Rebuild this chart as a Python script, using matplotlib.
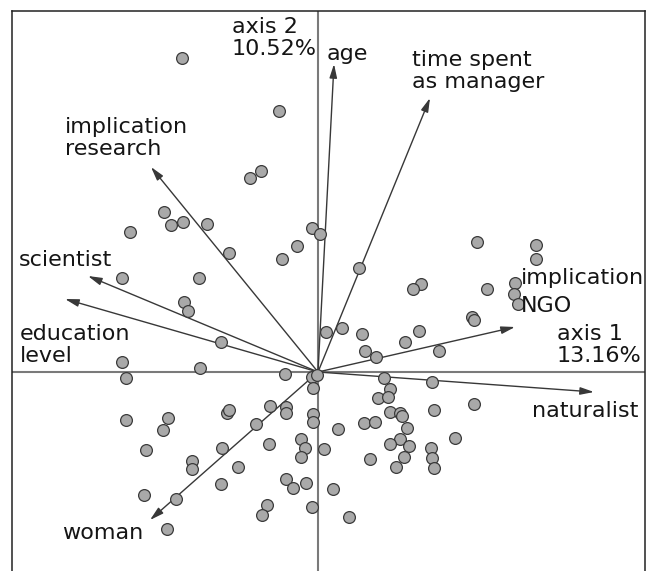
import matplotlib
matplotlib.use("Agg")
import matplotlib.pyplot as plt
from matplotlib.patches import FancyArrowPatch

# Individual scores on the factorial plane (axis 1, axis 2)
ind_x = [-1.36, -0.39, -0.68, -0.57, -1.54, -1.47, -1.35, -1.11, -1.88, -0.06,
         0.02, -0.21, -0.89, -0.36, -1.96, -1.19, 0.41, 1.59, 2.18, 2.18,
         1.03, 0.95, 1.69, 1.97, 1.96, 2.00, 1.54, 1.56, 0.24, 0.08,
         0.44, 1.01, 0.87, 0.47, 0.58, 1.21, -1.34, -1.30, -0.97, -1.96,
         -1.92, -1.18, -0.33, -0.06, -0.01, -0.05, 0.66, 1.14, 0.72, 0.60,
         0.70, 1.56, 0.72, 0.82, 0.84, 1.16, 0.20, 0.46, 0.57, 0.89,
         0.82, 0.72, 0.91, 1.37, 1.13, 1.14, 1.16, 0.86, 0.78, 0.52,
         0.06, 0.15, 0.31, -0.48, -0.32, -0.32, -0.91, -0.89, -0.05, -0.05,
         -1.92, -1.50, -1.55, -0.62, -1.72, -0.96, -0.49, -0.17, -0.13, -0.17,
         -1.26, -1.26, -0.80, -1.74, -1.42, -0.97, -0.32, -0.25, -0.12, -0.51,
         -0.56, -0.06, -1.51]
ind_y = [3.14, 2.61, 1.94, 2.01, 1.60, 1.47, 1.50, 1.48, 1.40, 1.44,
         1.38, 1.26, 1.19, 1.13, 0.94, 0.94, 1.04, 1.30, 1.27, 1.13,
         0.88, 0.83, 0.83, 0.89, 0.78, 0.68, 0.55, 0.52, 0.44, 0.40,
         0.38, 0.41, 0.30, 0.21, 0.15, 0.21, 0.70, 0.61, 0.30, 0.10,
         -0.06, 0.04, -0.02, -0.05, -0.03, -0.16, -0.06, -0.10, -0.17, -0.26,
         -0.25, -0.32, -0.40, -0.41, -0.44, -0.38, -0.57, -0.51, -0.50, -0.56,
         -0.67, -0.72, -0.74, -0.66, -0.76, -0.86, -0.96, -0.85, -0.95, -0.87,
         -0.77, -1.17, -1.45, -0.34, -0.35, -0.41, -0.41, -0.38, -0.42, -0.50,
         -0.48, -0.46, -0.58, -0.52, -0.78, -0.76, -0.72, -0.67, -0.76, -0.85,
         -0.89, -0.97, -0.95, -1.23, -1.27, -1.12, -1.07, -1.16, -1.11, -1.33,
         -1.43, -1.35, -1.57]

# Variable loadings (arrow tips)
var_names = ["age", "time spent\nas manager", "implication\nresearch", "scientist",
             "education\nlevel", "woman", "implication\nNGO", "naturalist"]
var_x = [0.16, 1.12, -1.67, -2.30, -2.53, -1.68, 1.97, 2.76]
var_y = [3.08, 2.74, 2.05, 0.96, 0.73, -1.48, 0.45, -0.20]

axis_labels = ["axis 1\n13.16%", "axis 2\n10.52%"]

W, H = 657, 571
fig = plt.figure(figsize=(W / 100, H / 100), dpi=100)
left_px, right_px, top_px, bottom_px = 12, 645, 11, 571
ax = fig.add_axes([left_px / W, 1 - bottom_px / H,
                   (right_px - left_px) / W, (bottom_px - top_px) / H])
ox, oy = 318, 372
ax.set_xlim((left_px - ox) / 100, (right_px - ox) / 100)
ax.set_ylim((oy - bottom_px) / 100, (oy - top_px) / 100)
ax.set_xticks([])
ax.set_yticks([])
for s in ["left", "right", "top"]:
    ax.spines[s].set_linewidth(1.1)
    ax.spines[s].set_color("#222222")
ax.spines["bottom"].set_visible(False)

ax.axhline(0, color="#7a7a7a", lw=1.5, zorder=1)
ax.axvline(0, color="#7a7a7a", lw=1.5, zorder=1)

for vx, vy in zip(var_x, var_y):
    arr = FancyArrowPatch((0, 0), (vx, vy),
                          arrowstyle="-|>,head_length=0.55,head_width=0.15",
                          mutation_scale=15, color="#383838", lw=1.0,
                          shrinkA=0, shrinkB=0, zorder=2)
    ax.add_patch(arr)

ax.scatter(ind_x, ind_y, s=72, facecolor="#a9a9a9", edgecolor="#3a3a3a",
           linewidths=0.9, zorder=3)

def px2d(px, py):
    return (px - ox) / 100, (oy - py) / 100

# (left x, baseline of last line, linespacing) in pixels
label_pos = {
    "age": (327, 60, 1.14),
    "time spent\nas manager": (412, 88, 1.14),
    "implication\nresearch": (65, 155, 1.14),
    "scientist": (19, 266, 1.14),
    "education\nlevel": (20, 362, 1.1),
    "woman": (62, 539, 1.14),
    "implication\nNGO": (521, 312, 1.5),
    "naturalist": (532, 417, 1.14),
}
for name in var_names:
    px, py, ls = label_pos[name]
    tx, ty = px2d(px, py)
    ax.text(tx, ty, name, fontsize=16, color="#151515", ha="left",
            va="baseline", linespacing=ls, zorder=4)

ax_pos = [(557, 362), (232, 55)]
for lab, (px, py) in zip(axis_labels, ax_pos):
    tx, ty = px2d(px, py)
    ax.text(tx, ty, lab, fontsize=16, color="#151515", ha="left",
            va="baseline", linespacing=1.12, zorder=4)

fig.savefig("out.png", dpi=100)
